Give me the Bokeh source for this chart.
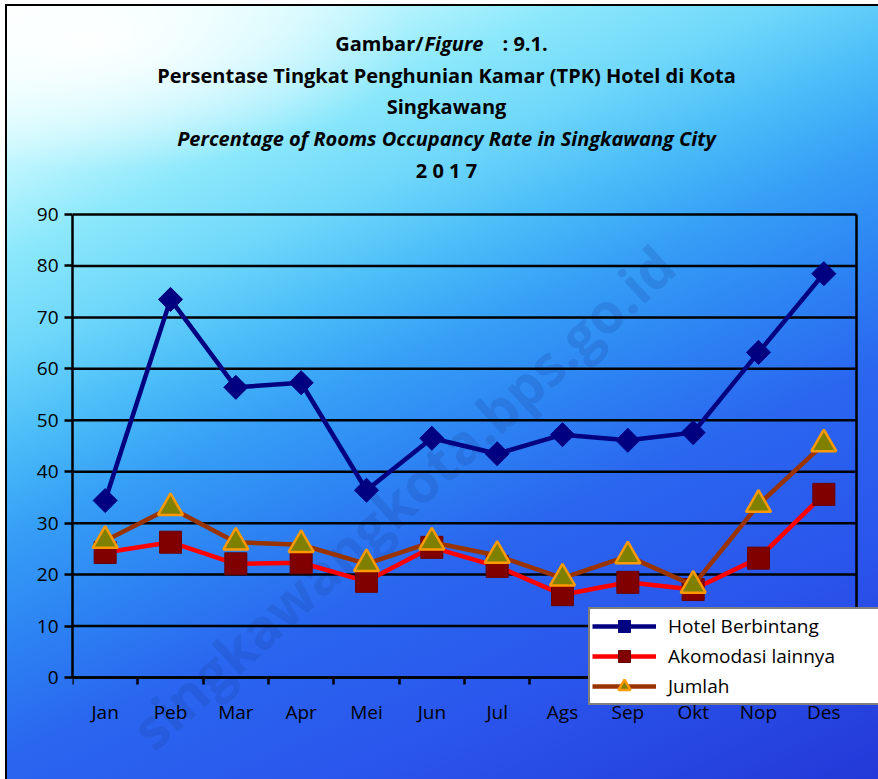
import math
from bokeh.plotting import figure
from bokeh.models import Range1d, FixedTicker, Label, Legend, LegendItem, ColumnDataSource
from bokeh.embed import file_html
from bokeh.resources import INLINE

# ---------------- data ----------------
months = ["Jan", "Peb", "Mar", "Apr", "Mei", "Jun", "Jul", "Ags", "Sep", "Okt", "Nop", "Des"]
hotel_berbintang = [34.4, 73.5, 56.4, 57.3, 36.4, 46.5, 43.5, 47.2, 46.1, 47.6, 63.2, 78.5]
akomodasi_lainnya = [24.3, 26.3, 22.1, 22.3, 18.7, 25.3, 21.6, 16.1, 18.5, 17.1, 23.2, 35.6]
jumlah = [26.6, 33.0, 26.3, 25.8, 22.1, 26.3, 23.7, 19.3, 23.6, 17.9, 33.6, 45.4]
y_ticks = [0, 10, 20, 30, 40, 50, 60, 70, 80, 90]
series_names = ["Hotel Berbintang", "Akomodasi lainnya", "Jumlah"]

FONT = "Open Sans"

# ---------------- layout (pixels) ----------------
W, H = 878, 779
LEFT = 72                 # left edge of plot area
PLOT_W = 784              # width of the category area
PLOT_TOP, PLOT_BOTTOM = 214, 677

n = len(months)
x_per_px = n / PLOT_W
y_per_px = (y_ticks[-1] - y_ticks[0]) / (PLOT_BOTTOM - PLOT_TOP)
x_end = (W - LEFT) * x_per_px
y_start = y_ticks[0] - (H - PLOT_BOTTOM) * y_per_px
y_end = y_ticks[-1] + PLOT_TOP * y_per_px

centers = [i + 0.5 for i in range(n)]
bounds = list(range(n + 1))

src = ColumnDataSource(dict(x=centers, hotel=hotel_berbintang, ako=akomodasi_lainnya, jml=jumlah))

p = figure(width=W, height=H, output_backend="svg", toolbar_location=None,
           x_range=Range1d(0, x_end), y_range=Range1d(y_start, y_end),
           min_border_left=LEFT, min_border_right=0, min_border_top=0, min_border_bottom=0)

p.background_fill_color = None
p.border_fill_color = None
p.outline_line_color = None
p.styles = {
    "background": "radial-gradient(ellipse 320px 130px at 90px 40px, rgba(255,255,255,0.95), rgba(255,255,255,0) 100%), "
                  "linear-gradient(156deg, #ffffff 0%, #e6ffff 7%, #c8f8fe 13%, #8ce8fb 22%, #70d8fa 30%, "
                  "#4cbef8 38%, #369ff6 46%, #2d84f3 55%, #2a66ef 65%, #2a55ec 80%, #2338d8 100%)",
    "box-shadow": "inset 5px 4px 0 0 #ffffff, inset 7px 6px 0 0 #000000",
}

# x axis placed at y = 0 inside the frame
xa = p.xaxis[0]
xa.fixed_location = y_ticks[0]
xa.bounds = (0, n)
xa.ticker = FixedTicker(ticks=centers, minor_ticks=bounds)
xa.major_label_overrides = {c: m for c, m in zip(centers, months)}
xa.major_tick_out = 0
xa.major_tick_in = 0
xa.minor_tick_out = 7
xa.minor_tick_in = 0
xa.minor_tick_line_color = "black"
xa.minor_tick_line_width = 2.5
xa.major_label_standoff = 14

ya = p.yaxis[0]
ya.bounds = (y_ticks[0], y_ticks[-1])
ya.ticker = FixedTicker(ticks=y_ticks)
ya.major_tick_out = 8
ya.major_tick_in = 0
ya.minor_tick_line_color = None
ya.major_label_standoff = 6

for ax in (xa, ya):
    ax.axis_line_color = "black"
    ax.axis_line_width = 2.5
    ax.major_tick_line_color = "black"
    ax.major_tick_line_width = 2.5
    ax.major_label_text_font = FONT
    ax.major_label_text_font_size = "19px"
    ax.major_label_text_color = "black"

p.xgrid.grid_line_color = None
p.ygrid.grid_line_color = None

# watermark (below the data)
p.add_layout(Label(x=330, y=283, x_units="screen", y_units="screen", text="singkawangkota.bps.go.id",
                   angle=0.742, text_align="center", text_baseline="middle",
                   text_font=FONT, text_font_style="bold", text_font_size="55px",
                   text_color="#1a3f9a", text_alpha=0.2, level="underlay"))

# gridlines and right border of the plot area
p.segment(x0=[0] * len(y_ticks), y0=y_ticks, x1=[n] * len(y_ticks), y1=y_ticks,
          line_color="black", line_width=2.5)
p.segment(x0=[n], y0=[y_ticks[0]], x1=[n], y1=[y_ticks[-1]], line_color="black", line_width=2.5)

# series
l1 = p.line("x", "hotel", source=src, line_color="#000080", line_width=4.5)
m1 = p.scatter("x", "hotel", source=src, marker="square", size=17, angle=math.pi / 4,
               fill_color="#000080", line_color="#000080", line_width=1)
l2 = p.line("x", "ako", source=src, line_color="#ff0000", line_width=4.5)
m2 = p.scatter("x", "ako", source=src, marker="square", size=22,
               fill_color="#800000", line_color="#6a0000", line_width=1)
l3 = p.line("x", "jml", source=src, line_color="#993300", line_width=4.5)
m3 = p.scatter("x", "jml", source=src, marker="triangle", size=25,
               fill_color="#808000", line_color="#ff9900", line_width=2.5)

legend = Legend(items=[LegendItem(label=series_names[0], renderers=[l1, m1]),
                       LegendItem(label=series_names[1], renderers=[l2, m2]),
                       LegendItem(label=series_names[2], renderers=[l3, m3])],
                location=(588 - LEFT, H - 705), orientation="vertical",
                background_fill_color="white", background_fill_alpha=1.0,
                border_line_color="black", border_line_width=2.5,
                label_text_font=FONT, label_text_font_size="19px", label_text_color="black",
                glyph_width=64, glyph_height=30, label_height=30, spacing=0,
                padding=2, margin=0, label_standoff=12, label_width=215)
p.add_layout(legend, "center")

# titles (screen units relative to the frame's bottom-left)
def sx(px):
    return px - LEFT

def sy(py):
    return H - py

tstyle = dict(x_units="screen", y_units="screen", text_baseline="middle",
              text_font=FONT, text_font_size="20px", text_color="black")
p.add_layout(Label(x=sx(423), y=sy(43), text="Gambar/", text_align="right", text_font_style="bold", **tstyle))
p.add_layout(Label(x=sx(424), y=sy(43), text="Figure", text_align="left", text_font_style="bold italic", **tstyle))
p.add_layout(Label(x=sx(502), y=sy(43), text=": 9.1.", text_align="left", text_font_style="bold", **tstyle))
p.add_layout(Label(x=sx(446), y=sy(75), text="Persentase Tingkat Penghunian Kamar (TPK) Hotel di Kota",
                   text_align="center", text_font_style="bold", **tstyle))
p.add_layout(Label(x=sx(446), y=sy(106), text="Singkawang", text_align="center", text_font_style="bold", **tstyle))
p.add_layout(Label(x=sx(446), y=sy(138), text="Percentage of Rooms Occupancy Rate in Singkawang City",
                   text_align="center", text_font_style="bold italic", **tstyle))
p.add_layout(Label(x=sx(446), y=sy(170), text="2 0 1 7", text_align="center", text_font_style="bold", **tstyle))

open("out.html", "w").write(file_html(p, INLINE))
